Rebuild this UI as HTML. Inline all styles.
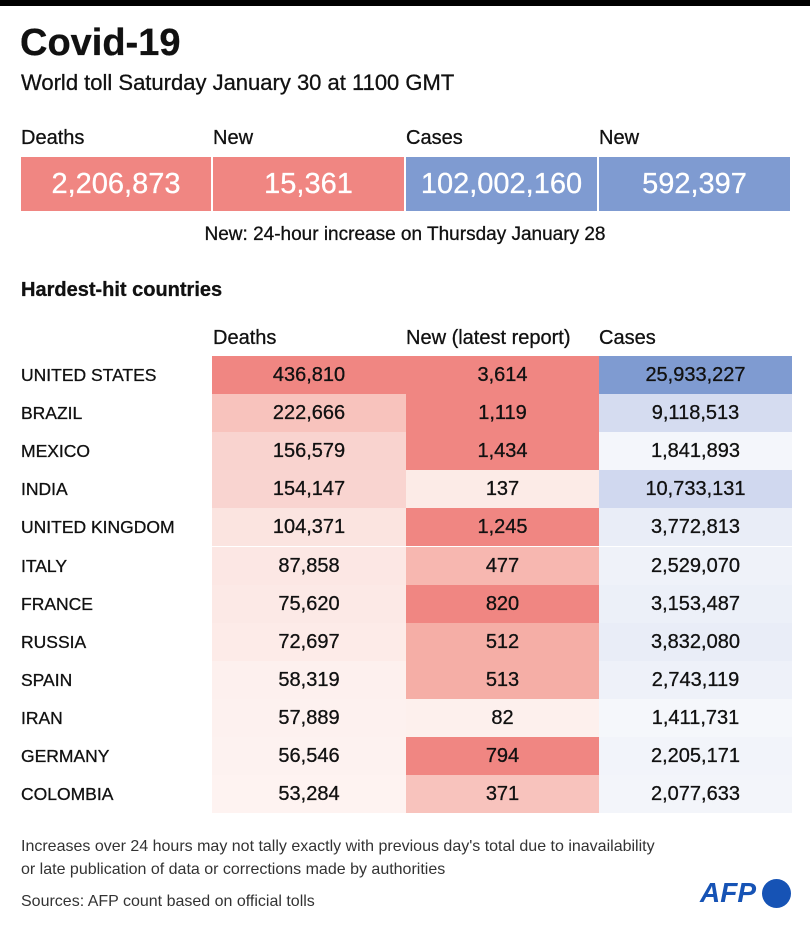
<!DOCTYPE html>
<html><head><meta charset="utf-8"><style>
*{margin:0;padding:0;box-sizing:border-box}
body{width:810px;height:934px;background:#fff;position:relative;overflow:hidden;font-family:"Liberation Sans",sans-serif;color:#111;-webkit-text-stroke:0.3px #111}
.a{position:absolute;white-space:nowrap}
.box{position:absolute;top:157px;height:54px;color:#fff;font-size:29px;text-align:center;line-height:54px;-webkit-text-stroke:0.3px #fff}
.c{position:absolute;height:38.1px;line-height:38px;text-align:center;font-size:20px}
.n{position:absolute;left:21px;height:38.1px;line-height:38px;font-size:17.5px}
.h{font-size:20px}
</style></head><body>
<div class="a" style="left:0;top:0;width:810px;height:6px;background:#000"></div>
<div class="a" style="left:20px;top:22px;font-size:38px;font-weight:bold">Covid-19</div>
<div class="a" style="left:21px;top:70px;font-size:22px">World toll Saturday January 30 at 1100 GMT</div>
<div class="a h" style="left:21px;top:127px">Deaths</div>
<div class="a h" style="left:213px;top:127px">New</div>
<div class="a h" style="left:406px;top:127px">Cases</div>
<div class="a h" style="left:599px;top:127px">New</div>
<div class="box" style="left:21px;width:190px;background:#f08682">2,206,873</div>
<div class="box" style="left:213px;width:191px;background:#f08682">15,361</div>
<div class="box" style="left:406px;width:191px;background:#7f9bd1">102,002,160</div>
<div class="box" style="left:599px;width:191px;background:#7f9bd1">592,397</div>
<div class="a" style="left:0;width:810px;top:224px;text-align:center;font-size:19px">New: 24-hour increase on Thursday January 28</div>
<div class="a" style="left:21px;top:279px;font-size:20px;font-weight:bold">Hardest-hit countries</div>
<div class="a h" style="left:213px;top:327px">Deaths</div>
<div class="a h" style="left:406px;top:327px">New (latest report)</div>
<div class="a h" style="left:599px;top:327px">Cases</div>
<div id="t"></div>
<div class="a" style="left:21px;top:835px;font-size:16px;line-height:23px;color:#333;-webkit-text-stroke:0">Increases over 24 hours may not tally exactly with previous day's total due to inavailability<br>or late publication of data or corrections made by authorities</div>
<div class="a" style="left:21px;top:893px;font-size:16px;color:#333;-webkit-text-stroke:0">Sources: AFP count based on official tolls</div>
<div class="a" style="left:700px;top:877px;font-size:28px;font-weight:bold;font-style:italic;color:#1653b5;-webkit-text-stroke:0">AFP</div>
<div class="a" style="left:762px;top:879px;width:29px;height:29px;border-radius:50%;background:#1653b5"></div>
<script>
var d=[["UNITED STATES","436,810","#f08682","3,614","#f08682","25,933,227","#7f9bd1"],
["BRAZIL","222,666","#f8c3bd","1,119","#f08682","9,118,513","#d5dcf0"],
["MEXICO","156,579","#f9d3cf","1,434","#f08682","1,841,893","#f4f6fb"],
["INDIA","154,147","#f9d4d0","137","#fcebe7","10,733,131","#d0d8ef"],
["UNITED KINGDOM","104,371","#fbe4e0","1,245","#f08682","3,772,813","#e9edf7"],
["ITALY","87,858","#fce7e4","477","#f7b7b0","2,529,070","#eff2f9"],
["FRANCE","75,620","#fce9e6","820","#f08682","3,153,487","#ecf0f8"],
["RUSSIA","72,697","#fdebe8","512","#f5aea6","3,832,080","#e9edf7"],
["SPAIN","58,319","#fdf0ee","513","#f5aea6","2,743,119","#eef1f9"],
["IRAN","57,889","#fdf1ef","82","#fdf0ed","1,411,731","#f5f7fb"],
["GERMANY","56,546","#fdf2f0","794","#f08682","2,205,171","#f2f4fa"],
["COLOMBIA","53,284","#fef3f1","371","#f8c3bd","2,077,633","#f3f5fa"]];
var h="";
d.forEach(function(r,i){var y=356+i*38.1;
h+='<div class="n" style="top:'+y+'px">'+r[0]+'</div>';
h+='<div class="c" style="top:'+y+'px;left:212px;width:194px;background:'+r[2]+'">'+r[1]+'</div>';
h+='<div class="c" style="top:'+y+'px;left:406px;width:193px;background:'+r[4]+'">'+r[3]+'</div>';
h+='<div class="c" style="top:'+y+'px;left:599px;width:193px;background:'+r[6]+'">'+r[5]+'</div>';});
document.getElementById("t").innerHTML=h;
</script>
</body></html>
